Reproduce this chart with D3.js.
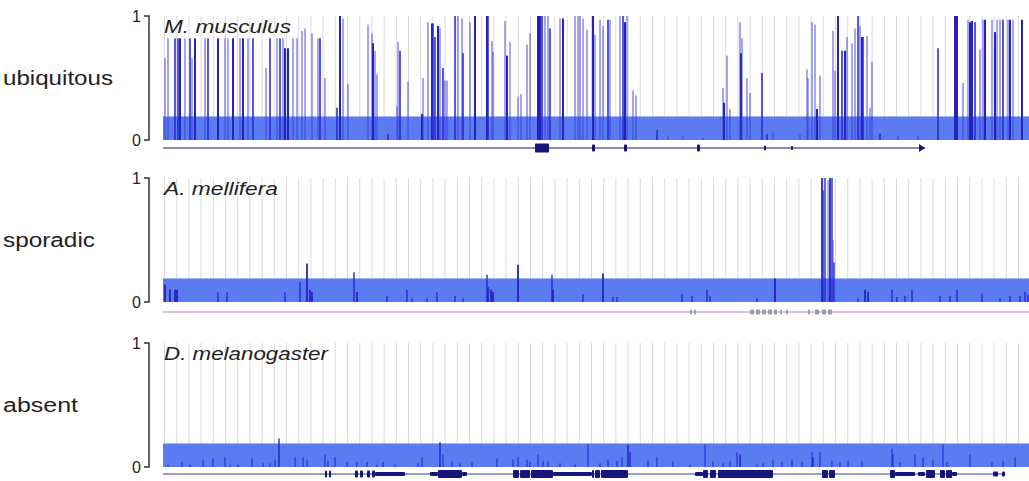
<!DOCTYPE html>
<html><head><meta charset="utf-8">
<script src="https://cdn.jsdelivr.net/npm/d3@7"></script>
<style>body{margin:0;background:#fff}svg{display:block}</style>
</head><body>
<svg id="c" width="1029" height="481"></svg>
<script>
// ---- data (positions in genomic units along the track, values 0..1, shade 1..3) ----
const rowLabels = ["ubiquitous", "sporadic", "absent"];
const speciesLabels = ["M. musculus", "A. mellifera", "D. melanogaster"];
const yTickLabels = ["0", "1"];
const bandLevel = [0.19, 0.19, 0.19];

const musculusBars = [
 [2,0.66,1],[5,0.82,1],[12,0.82,2],[15,0.82,2],[17,0.82,3],[22,0.82,1],[27,0.82,2],[29,0.66,1],[32,0.82,3],
 [42,0.82,1],[45,0.82,2],[55,0.82,3],[62,0.82,1],[65,0.82,1],[70,0.82,3],[77,0.82,1],[80,0.82,3],[85,0.82,1],
 [90,0.82,2],[103,0.58,1],[107,0.82,2],[114,0.82,1],[117,0.82,2],[120,0.82,1],[122,0.74,3],[125,0.74,3],
 [130,0.82,1],[134,0.82,1],[139,0.88,1],[142,0.9,1],[149,0.86,1],[155,0.82,1],[157,0.82,2],[162,0.5,1],
 [174,0.26,2],[177,1.0,3],[180,0.98,1],[185,0.45,1],[205,0.93,1],[209,0.86,1],[210,0.78,3],[212,0.72,1],
 [214,0.53,1],[225,0.05,2],[234,0.27,1],[235,0.79,1],[237,0.72,2],[245,0.47,1],[259,0.21,3],[260,0.5,1],
 [265,0.95,1],[269,0.94,3],[270,0.94,2],[272,0.83,2],[275,0.92,3],[277,0.9,1],[280,0.58,2],[282,0.48,1],
 [284,0.48,1],[292,1.0,2],[295,1.0,1],[299,0.98,1],[300,0.7,2],[307,0.95,1],[312,1.0,3],[324,1.0,3],
 [325,1.0,2],[329,0.8,1],[330,0.71,1],[342,0.96,1],[344,0.68,3],[347,0.79,1],[355,0.35,1],[358,0.37,1],
 [364,0.77,1],[367,0.86,1],[375,1.0,3],[377,1.0,3],[379,1.0,2],[382,1.0,1],[385,1.0,1],[387,0.9,2],
 [397,0.98,1],[400,0.98,3],[412,1.0,1],[415,1.0,1],[417,1.0,1],[420,0.98,1],[424,0.89,1],[430,1.0,3],
 [432,0.85,1],[437,0.97,1],[440,0.92,1],[445,0.97,2],[447,0.97,1],[457,1.0,1],[460,1.0,2],[462,0.95,3],
 [464,1.0,1],[470,0.4,1],[473,0.36,1],[494,0.08,2],[505,0.03,1],[520,0.03,1],[540,0.02,1],
 [560,0.42,1],[561,0.3,3],[564,0.68,1],[567,0.25,1],[577,0.95,1],[578,0.7,3],[579,0.82,1],[584,0.5,1],
 [587,0.38,1],[599,0.54,2],[604,0.05,2],[610,0.06,1],[637,0.05,1],[644,0.57,1],[645,0.5,1],[649,0.95,1],
 [652,0.93,1],[654,0.25,3],[657,0.52,1],[670,0.88,1],[672,0.56,1],[675,1.0,3],[679,0.72,2],[682,0.72,3],
 [684,0.83,1],[689,0.78,1],[692,0.9,1],[695,1.0,2],[697,0.92,1],[699,0.83,3],[700,0.83,2],[704,0.84,1],
 [707,0.26,1],[709,0.63,1],[717,0.05,2],[735,0.03,1],[755,0.03,1],[775,0.74,2],[792,1.0,3],[794,1.0,3],
 [800,0.46,1],[805,0.97,1],[807,0.95,3],[809,0.96,3],[812,0.95,2],[817,0.73,1],[820,0.97,1],[822,0.97,3],
 [829,0.97,1],[832,0.87,3],[834,0.97,1],[837,0.97,1],[840,0.97,2],[845,0.97,1],[847,0.97,3],[850,0.97,1],
 [859,0.97,3]
];
const melliferaBars = [
 [2,0.14,3],[7,0.1,3],[12,0.1,3],[14,0.1,3],[55,0.08,2],[64,0.08,2],[122,0.08,2],[137,0.16,2],[144,0.31,3],
 [147,0.1,3],[149,0.08,3],[191,0.24,2],[194,0.08,3],[224,0.05,2],[244,0.1,2],[249,0.03,2],[264,0.03,2],
 [274,0.08,2],[292,0.05,2],[300,0.03,2],[324,0.22,2],[325,0.12,3],[328,0.1,3],[330,0.08,3],[355,0.3,3],
 [389,0.22,2],[390,0.1,3],[420,0.06,2],[440,0.23,3],[450,0.04,2],[454,0.04,2],[519,0.06,2],[529,0.05,2],
 [544,0.1,2],[547,0.05,2],[594,0.03,2],[612,0.19,3],[659,1.0,3],[660,0.9,2],[662,1.0,2],[665,0.98,1],
 [667,1.0,3],[669,1.0,2],[670,0.5,1],[671,0.32,2],[695,0.03,2],[702,0.1,3],[705,0.08,3],[729,0.1,2],
 [734,0.04,2],[742,0.05,2],[749,0.1,2],[777,0.05,2],[787,0.05,2],[794,0.1,2],[819,0.07,2],[837,0.03,2],
 [847,0.05,2],[857,0.05,2],[862,0.08,2],[865,0.06,2]
];
const melanogasterBars = [
 [5,0.02,2],[19,0.04,2],[27,0.02,2],[40,0.06,2],[50,0.07,2],[62,0.08,2],[67,0.02,2],[75,0.02,2],
 [89,0.07,2],[100,0.03,2],[107,0.03,2],[112,0.06,2],[116,0.23,3],[132,0.08,2],[140,0.08,2],[144,0.06,2],
 [162,0.1,2],[165,0.05,2],[172,0.08,2],[184,0.04,2],[194,0.04,2],[204,0.04,2],[214,0.02,2],[220,0.04,2],
 [232,0.02,2],[255,0.03,2],[259,0.08,2],[277,0.2,3],[280,0.1,2],[289,0.05,2],[297,0.03,2],[309,0.04,2],
 [334,0.07,2],[350,0.06,2],[355,0.08,2],[364,0.06,2],[367,0.04,2],[375,0.1,2],[380,0.05,2],[385,0.05,2],
 [397,0.03,2],[412,0.02,2],[425,0.18,2],[437,0.03,2],[445,0.06,2],[454,0.05,2],[459,0.08,2],[465,0.18,3],
 [467,0.12,3],[485,0.05,2],[494,0.08,2],[510,0.05,2],[527,0.02,2],[542,0.18,2],[550,0.05,2],[560,0.03,2],
 [567,0.05,2],[574,0.12,2],[577,0.1,3],[594,0.02,2],[600,0.03,2],[610,0.06,2],[619,0.04,2],[629,0.06,2],
 [639,0.04,2],[649,0.12,2],[650,0.08,3],[657,0.12,2],[669,0.05,2],[677,0.04,2],[685,0.05,2],[699,0.05,2],
 [729,0.15,2],[730,0.1,2],[737,0.04,2],[752,0.1,2],[760,0.08,2],[770,0.06,2],[780,0.18,2],[784,0.04,2],
 [807,0.1,2],[829,0.04,2],[840,0.05,2],[852,0.08,2]
];
// gene models: [start, end, height]
const musculusGene = {start: 0, end: 762, exons: [[372,386,9],[429,432,7],[461,464,7],[534,537,7],[601,603,5],[628,630,4]]};
const melliferaGene = {start: 0, end: 866, exons: [[527,529,5],[531,533,5],[587,591,5],[593,597,5],[599,603,5],[605,609,5],[611,614,5],[617,619,5],[623,625,5],[645,647,5],[652,656,5],[659,663,5],[665,669,5]]};
const melanogasterGene = {start: 0, end: 842, exons: [[162,164,7],[166,168,7],[192,195,7],[197,200,7],[204,207,7],[209,212,7],[212,242,4],[267,275,4],[275,299,8],[299,304,4],[350,356,8],[357,367,8],[368,390,8],[390,429,4],[429,431,8],[432,437,8],[438,465,8],[532,540,4],[540,545,8],[547,553,8],[555,610,8],[659,665,8],[666,672,8],[727,732,8],[732,752,4],[755,762,4],[763,772,8],[777,782,8],[783,789,8],[789,794,4],[830,835,5],[839,842,5]]};

// ---- layout ----
const svg = d3.select("#c");
const x = d3.scaleLinear().domain([0, 866]).range([163, 1029]);
const panels = [
  {bars: musculusBars, gene: musculusGene, top: 16, bottom: 140, geneY: 148, labelY: 85, lineColor: "#8c8ca6", exonColor: "#15157a", arrow: true, labelW: 110, spW: 127, barW: 2},
  {bars: melliferaBars, gene: melliferaGene, top: 178, bottom: 302, geneY: 312, labelY: 247, lineColor: "#dcc2e4", exonColor: "#9a9aac", arrow: false, labelW: 92, spW: 114, barW: 1.8},
  {bars: melanogasterBars, gene: melanogasterGene, top: 343, bottom: 467, geneY: 474, labelY: 412, lineColor: "#3a3a8a", exonColor: "#15157a", arrow: false, labelW: 75, spW: 164, barW: 1.4}
];
const shadeFill = {1: "rgba(58,58,222,0.45)", 2: "rgba(40,40,215,0.78)", 3: "#2424bc"};
const gridPos = d3.range(1.5, 866, 12.2);

panels.forEach((p, i) => {
  const y = d3.scaleLinear().domain([0, 1]).range([p.bottom, p.top]);
  const g = svg.append("g");
  // grid
  g.selectAll("line.grid").data(gridPos).join("line")
    .attr("x1", d => x(d)).attr("x2", d => x(d))
    .attr("y1", y(1)).attr("y2", y(0))
    .attr("stroke", "#dadae2").attr("stroke-width", 1);
  // band
  g.append("rect").attr("x", x(0)).attr("width", x(866) - x(0))
    .attr("y", y(bandLevel[i])).attr("height", y(0) - y(bandLevel[i]))
    .attr("fill", "#5b7cf1");
  // bars
  g.selectAll("rect.bar").data(p.bars).join("rect")
    .attr("x", d => x(d[0]) - p.barW / 2).attr("width", p.barW)
    .attr("y", d => y(d[1])).attr("height", d => y(0) - y(d[1]))
    .attr("fill", d => shadeFill[d[2]]);
  // axis bracket
  const ax = d3.axisLeft(y).tickValues([0, 1]).tickFormat((d, k) => yTickLabels[k]).tickSize(5).tickPadding(3);
  const axG = g.append("g").attr("transform", "translate(149,0)").call(ax)
    .attr("font-size", 16).attr("font-family", "Liberation Sans, Arial, sans-serif");
  axG.select(".domain").attr("d", `M-5,${y(1)}H0V${y(0)}H-5`).attr("stroke", "#333").attr("stroke-width", 1.5);
  axG.selectAll(".tick line").remove();
  axG.selectAll(".tick text").style("font-size", "16px").attr("fill", "#222").attr("x", -8);
  // row label
  g.append("text").attr("x", 3).attr("y", p.labelY).text(rowLabels[i])
    .attr("font-family", "Liberation Sans, Arial, sans-serif").attr("font-size", 20).attr("fill", "#222")
    .attr("textLength", p.labelW).attr("lengthAdjust", "spacingAndGlyphs");
  // species label
  g.append("text").attr("x", 164).attr("y", y(1) + 17).text(speciesLabels[i])
    .attr("font-family", "Liberation Sans, Arial, sans-serif").attr("font-style", "italic").attr("font-size", 18).attr("fill", "#222")
    .attr("textLength", p.spW).attr("lengthAdjust", "spacingAndGlyphs");
  // gene track
  g.append("line").attr("x1", x(p.gene.start)).attr("x2", x(p.gene.end))
    .attr("y1", p.geneY).attr("y2", p.geneY).attr("stroke", p.lineColor).attr("stroke-width", i === 2 ? 1.2 : 2);
  g.selectAll("rect.exon").data(p.gene.exons).join("rect")
    .attr("x", d => x(d[0])).attr("width", d => Math.max(1.5, x(d[1]) - x(d[0])))
    .attr("y", d => p.geneY - d[2] / 2).attr("height", d => d[2])
    .attr("rx", 1).attr("fill", p.exonColor);
  if (p.arrow) {
    const ex = x(p.gene.end);
    g.append("path").attr("d", `M${ex - 6},${p.geneY - 4}L${ex},${p.geneY}L${ex - 6},${p.geneY + 4}Z`).attr("fill", "#15157a");
  }
});
</script>
</body></html>
